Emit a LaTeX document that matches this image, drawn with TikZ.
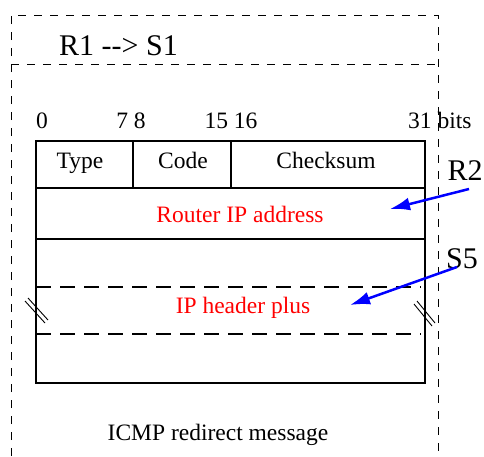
\documentclass[tikz,border=0pt]{standalone}
\usepackage{fontspec}
\setmainfont{Liberation Serif}
\usetikzlibrary{arrows.meta}
\begin{document}
\begin{tikzpicture}[x=1pt,y=-1pt,
  dsh/.style={draw=black,line width=0.8pt,dash pattern=on 8pt off 8pt},
  box/.style={draw=black,line width=1.5pt},
  lbl/.style={inner sep=0pt,anchor=base,font=\fontsize{23.5}{26}\selectfont},
  big/.style={inner sep=0pt,anchor=base,font=\fontsize{30}{33}\selectfont},
  red/.style={lbl,text={rgb,255:red,255;green,0;blue,0}},
  bluearrow/.style={draw={rgb,255:red,0;green,0;blue,255},line width=2.5pt,-{Latex[length=20pt,width=13pt]}},
  brk/.style={draw=black,line width=0.9pt}]
\useasboundingbox (0,0) rectangle (484,456);
% outer dashed frame
\coordinate (otl) at (11,15);
\coordinate (otr) at (438,15);
\coordinate (obl) at (11,456);
\coordinate (obr) at (438,456);
\coordinate (oml) at (11,64);
\coordinate (omr) at (438,64);
\draw[dsh] (obl) -- (otl) -- (otr) -- (obr);
\draw[dsh] (oml) -- (omr);
\node[big,anchor=base west] (title) at (59,55) {R1 {-}{-}> S1};
% bit labels
\node[lbl] (b0) at (42,128) {0};
\node[lbl] (b7) at (131,128) {7 8};
\node[lbl] (b15) at (231,128) {15 16};
\node[lbl,anchor=base west] (b31) at (408,128) {31 bits};
% main box
\draw[box] (36,141) rectangle (425,383);
\draw[box] (36,188) -- (425,188);
\draw[box] (36,239) -- (425,239);
\draw[box] (133,141) -- (133,188);
\draw[box] (231,141) -- (231,188);
\draw[draw=black,line width=1.5pt,dash pattern=on 15pt off 9pt] (36,287) -- (421,287);
\draw[draw=black,line width=1.5pt,dash pattern=on 15pt off 9pt] (36,334) -- (421,334);
\node[lbl] (type) at (80,168) {Type};
\node[lbl] (code) at (183,168) {Code};
\node[lbl] (cks) at (326,168) {Checksum};
\node[red] (rip) at (240,222) {Router IP address};
\node[red] (iph) at (243,313) {IP header plus};
\node[lbl] (msg) at (218,440) {ICMP redirect message};
% break marks
\draw[brk] (25,301) -- (45,323);
\draw[brk] (28,298) -- (48,320);
\draw[brk] (414,304) -- (432,326);
\draw[brk] (417,301) -- (435,323);
% R2, S5
\node[big] (r2) at (465,180) {R2};
\node[big] (s5) at (462,268) {S5};
\coordinate (r2s) at (469,189);
\coordinate (r2e) at (390,209);
\coordinate (s5s) at (457,267);
\coordinate (s5e) at (350,305);
\draw[bluearrow] (r2s) -- (r2e);
\draw[bluearrow] (s5s) -- (s5e);
\end{tikzpicture}
\end{document}
